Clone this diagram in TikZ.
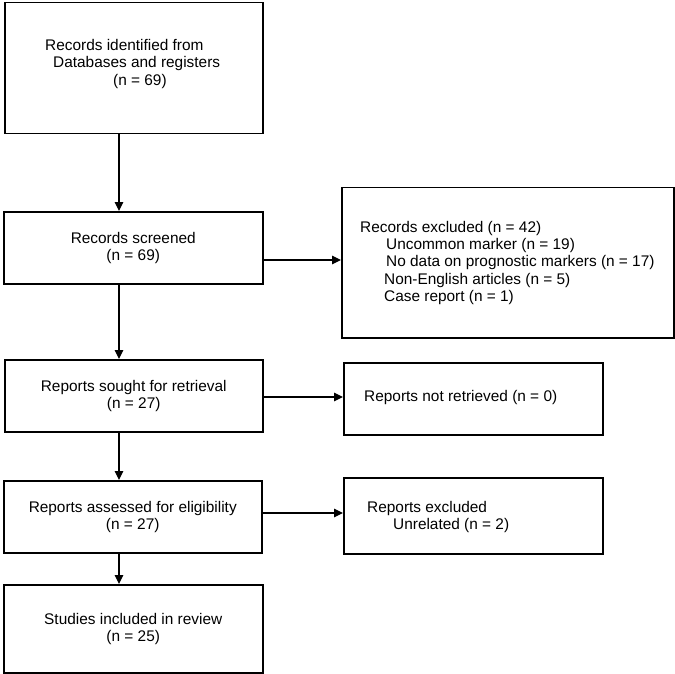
\documentclass[tikz,border=0pt]{standalone}
\usepackage{fontspec}
\setmainfont{Liberation Sans}
\usetikzlibrary{arrows.meta}
\begin{document}
\begin{tikzpicture}[x=1pt,y=1pt,
  box/.style={draw=black, line width=1.5pt, rectangle, anchor=north west, inner sep=0pt},
  txt/.style={font=\fontsize{15.4}{17.3}\selectfont, align=left, anchor=west, inner sep=0pt},
  ctxt/.style={font=\fontsize{15.4}{17.3}\selectfont, align=center},
  arr/.style={draw=black, line width=1.1pt, -{Triangle[length=9pt,width=8.5pt]}}]
\useasboundingbox (0,0) rectangle (675,-674);
% boxes
\node[box, minimum width=258, minimum height=131] (b1) at (4,-2) {};
\node[box, minimum width=259, minimum height=72, ctxt] (b2) at (3,-211) {Records screened\\(n = 69)};
\node[box, minimum width=332, minimum height=150] (ex) at (341,-187) {};
\node[box, minimum width=258, minimum height=72, ctxt] (b3) at (4,-359) {Reports sought for retrieval\\(n = 27)};
\node[box, minimum width=259, minimum height=72] (nr) at (343,-362) {};
\node[box, minimum width=258, minimum height=72, ctxt] (b4) at (3,-480) {Reports assessed for eligibility\\(n = 27)};
\node[box, minimum width=259, minimum height=76] (re) at (343,-477) {};
\node[box, minimum width=259, minimum height=88, ctxt] (b5) at (3,-584) {Studies included in review\\(n = 25)};
% texts
\node[txt] (t1) at (45,-64) {Records identified from\\\hspace*{8pt}Databases and registers\\\hspace*{68pt}(n = 69)};
\node[txt] (tex) at (360,-263) {Records excluded (n = 42)\\\hspace*{26pt}Uncommon marker (n = 19)\\\hspace*{26pt}No data on prognostic markers (n = 17)\\\hspace*{24pt}Non-English articles (n = 5)\\\hspace*{24pt}Case report (n = 1)};
\node[txt] (tnr) at (364,-398) {Reports not retrieved (n = 0)};
\node[txt] (tre) at (367,-517) {Reports excluded\\\hspace*{26pt}Unrelated (n = 2)};
% connectors
\coordinate (vx) at (119,0);
\draw[arr] (b1.south -| vx) -- (b2.north -| vx);
\draw[arr] (b2.south -| vx) -- (b3.north -| vx);
\draw[arr] (b3.south -| vx) -- (b4.north -| vx);
\draw[arr] (b4.south -| vx) -- (b5.north -| vx);
\coordinate (h1) at (0,-260);
\coordinate (h2) at (0,-397);
\coordinate (h3) at (0,-513);
\draw[arr] (b2.east |- h1) -- (ex.west |- h1);
\draw[arr] (b3.east |- h2) -- (nr.west |- h2);
\draw[arr] (b4.east |- h3) -- (re.west |- h3);
\end{tikzpicture}
\end{document}
